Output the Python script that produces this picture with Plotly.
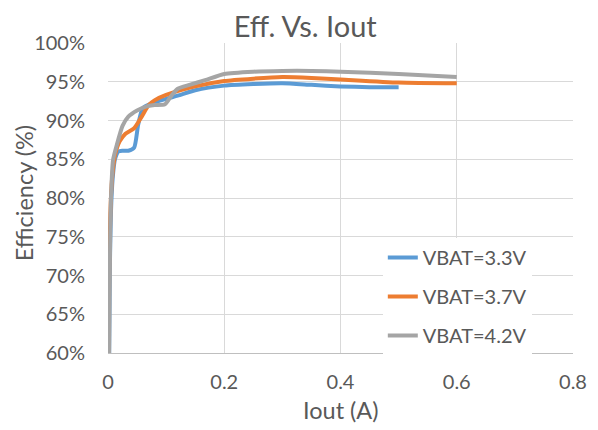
import plotly.graph_objects as go

# VBAT = 3.3 V
x_33 = [0.002, 0.003, 0.005, 0.008, 0.012, 0.018, 0.025, 0.035, 0.045, 0.052, 0.06, 0.075, 0.1, 0.12, 0.15, 0.2, 0.25, 0.3, 0.35, 0.4, 0.45, 0.5]
y_33 = [60, 70, 78, 82.5, 85, 86, 86.1, 86.1, 86.5, 89.5, 91.6, 92.2, 92.8, 93.2, 93.9, 94.5, 94.7, 94.8, 94.6, 94.4, 94.3, 94.3]

# VBAT = 3.7 V
x_37 = [0.001, 0.002, 0.004, 0.007, 0.012, 0.02, 0.03, 0.045, 0.058, 0.07, 0.08, 0.1, 0.15, 0.2, 0.25, 0.3, 0.35, 0.4, 0.5, 0.6]
y_37 = [60, 70, 78, 82.5, 85.5, 87.3, 88.3, 89.0, 90.5, 92.0, 92.6, 93.3, 94.4, 95.1, 95.4, 95.6, 95.5, 95.3, 94.9, 94.8]

# VBAT = 4.2 V
x_42 = [0.002, 0.0035, 0.005, 0.0087, 0.015, 0.025, 0.035, 0.05, 0.065, 0.08, 0.098, 0.11, 0.12, 0.14, 0.167, 0.2, 0.25, 0.3, 0.35, 0.4, 0.5, 0.6]
y_42 = [60, 73.3, 79.7, 84.9, 86.8, 89.3, 90.5, 91.3, 91.8, 92.0, 92.1, 93.3, 94.1, 94.6, 95.2, 96.0, 96.3, 96.4, 96.4, 96.3, 96.0, 95.6]

series = [
    ("VBAT=3.3V", x_33, y_33, "#5B9BD5"),
    ("VBAT=3.7V", x_37, y_37, "#ED7D31"),
    ("VBAT=4.2V", x_42, y_42, "#A5A5A5"),
]

y_ticks = [60, 65, 70, 75, 80, 85, 90, 95, 100]
y_ticktext = [f"{v}%" for v in y_ticks]
x_ticks = [0, 0.2, 0.4, 0.6, 0.8]
x_ticktext = ["0", "0.2", "0.4", "0.6", "0.8"]

title_text = "Eff. Vs. Iout"
x_title = "Iout (A)"
y_title = "Efficiency (%)"

FONT = "Lato, 'Open Sans', sans-serif"
TXT = "#595959"

fig = go.Figure()
for name, xs, ys, col in series:
    fig.add_trace(go.Scatter(
        x=xs, y=ys, name=name, mode="lines", legendgroup=name,
        line=dict(color=col, width=4, shape="spline", smoothing=0.6),
    ))

fig.update_layout(
    width=598, height=430,
    margin=dict(l=100, r=33, t=35, b=85, autoexpand=False),
    paper_bgcolor="white", plot_bgcolor="white",
    font=dict(family=FONT, color=TXT, size=16),
    title=dict(text=title_text, x=0.497, xref="container", y=0.957, yref="container",
               xanchor="center", yanchor="middle", font=dict(size=29, color=TXT, family=FONT)),
    xaxis=dict(range=[0, 0.8], tickvals=x_ticks, ticktext=x_ticktext,
               showgrid=True, gridcolor="#D9D9D9", gridwidth=1, zeroline=False,
               showline=True, linecolor="#BFBFBF", linewidth=1,
               tickfont=dict(size=20, color=TXT), ticks="", ticklabelstandoff=11),
    yaxis=dict(range=[60, 100], tickvals=y_ticks, ticktext=y_ticktext,
               showgrid=True, gridcolor="#D9D9D9", gridwidth=1, zeroline=False,
               showline=False, ticks="", tickfont=dict(size=20, color=TXT), ticklabelstandoff=22),
    legend=dict(x=0.591, y=0.371, xanchor="left", yanchor="top", bgcolor="white",
                font=dict(size=20, color=TXT), tracegroupgap=10, borderwidth=0),
    showlegend=True,
    annotations=[
        dict(text=x_title, xref="paper", yref="paper", x=0.5, y=-0.184,
             xanchor="center", yanchor="middle", showarrow=False,
             font=dict(size=23.5, color=TXT, family=FONT)),
        dict(text=y_title, xref="paper", yref="paper", x=-0.1806, y=0.515,
             xanchor="center", yanchor="middle", showarrow=False, textangle=-90,
             font=dict(size=23.5, color=TXT, family=FONT)),
    ],
)

fig.write_html("out.html")
